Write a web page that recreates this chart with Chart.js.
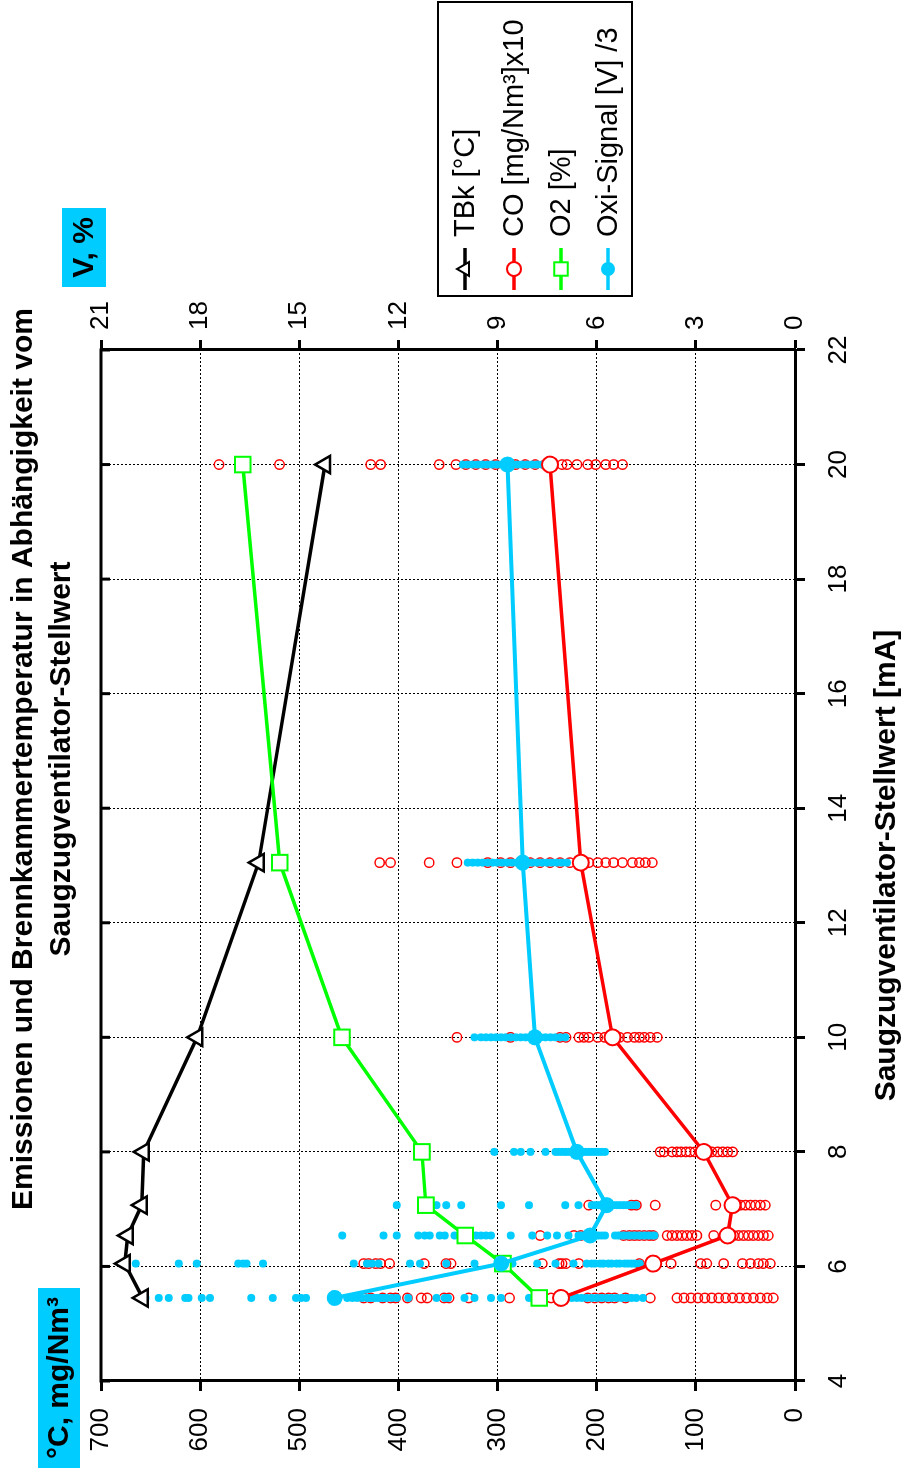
<!DOCTYPE html>
<html><head><meta charset="utf-8">
<script src="https://cdn.jsdelivr.net/npm/chart.js@4.4.1/dist/chart.umd.min.js"></script>
<style>
html,body{margin:0;padding:0;background:#fff;overflow:hidden;width:906px;height:1475px;}
#wrap{position:absolute;left:0;top:0;width:1475px;height:906px;transform-origin:0 0;transform:translate(0px,1475px) rotate(-90deg);background:#fff;}
canvas{display:block;}
</style></head><body>
<div id="wrap"><canvas id="c" width="1475" height="906"></canvas></div>
<script>
// ---------- data ----------
const titleLines = ['Emissionen und Brennkammertemperatur in Abhängigkeit vom', 'Saugzugventilator-Stellwert'];
const xAxisTitle = 'Saugzugventilator-Stellwert [mA]';
const leftAxisTitle = '°C, mg/Nm³';
const rightAxisTitle = 'V, %';
const seriesLabels = ['TBk [°C]', 'CO [mg/Nm³]x10', 'O2 [%]', 'Oxi-Signal [V] /3'];

const xMin = 4, xMax = 22, xStep = 2;
const yLeftMax = 700, yLeftStep = 100;
const yRightMax = 21, yRightStep = 3;

const xMean = [5.45, 6.05, 6.54, 7.07, 8, 10, 13.05, 20];
const tbk   = [658, 676, 673, 659, 657, 603, 541, 474];
const co    = [236, 143, 68, 63, 92, 184, 216, 247];
const o2    = [7.74, 8.84, 9.98, 11.17, 11.29, 13.71, 15.59, 16.71];
const oxi   = [13.93, 8.89, 6.2, 5.7, 6.6, 7.87, 8.24, 8.7];

// raw CO readings per set point (left axis)
const coRaw1 = [435, 428, 416, 408, 403, 391, 377, 371, 354, 349, 329, 288, 246, 209, 202, 195, 188, 182, 171, 146, 119, 112, 105, 98, 91, 84, 77, 70, 63, 56, 49, 42, 35, 28, 22];
const coRaw2 = [435, 430, 423, 418, 409, 374, 352, 347, 255, 238, 235, 231, 218, 157, 125, 95, 89, 72, 53, 45, 37, 32, 25];
const coRaw3 = [257, 223, 216, 173, 167, 162, 157, 152, 147, 143, 129, 124, 119, 114, 109, 104, 99, 82, 62, 57, 52, 47, 42, 37, 32, 27];
const coRaw4 = [208, 165, 160, 141, 80, 55, 50, 45, 40, 35, 30];
const coRaw5 = [136, 132, 124, 119, 115, 110, 106, 101, 96, 93, 88, 84, 78, 73, 68, 63];
const coRaw6 = [341, 287, 237, 231, 218, 213, 208, 199, 192, 177, 169, 162, 157, 152, 146, 139];
const coRaw7 = [419, 408, 369, 341, 310, 297, 287, 277, 267, 257, 247, 237, 227, 208, 199, 191, 183, 174, 164, 157, 151, 144];
const coRaw8 = [581, 520, 428, 418, 359, 342, 332, 322, 312, 302, 292, 282, 272, 262, 252, 247, 235, 230, 220, 209, 201, 191, 183, 174];

// raw Oxi-signal readings per set point (right axis)
const oxiRaw1 = [19.65, 19.25, 18.95, 18.45, 18.35, 17.95, 17.7, 16.45, 15.8, 15.1, 14.95, 14.8, 13.55, 13.4, 13.25, 13.1, 12.95, 12.85, 12.75, 12.65, 12.55, 12.45, 12.35, 12.2, 12.05, 11.7, 10.85, 10.6, 10.5, 10.0, 9.7, 9.2, 8.9, 8.05, 7.65, 6.75, 6.6, 6.45, 6.3, 6.15, 6.0, 5.85, 5.7, 5.55, 5.4, 5.25, 5.1, 4.95, 4.8, 4.6];
const oxiRaw2 = [20.35, 19.95, 18.65, 18.1, 16.85, 16.7, 16.6, 16.1, 13.35, 12.95, 12.8, 12.6, 11.65, 11.35, 10.55, 9.7, 8.55, 7.8, 7.25, 6.7, 6.3, 6.15, 6.05, 5.9, 5.8, 5.65, 5.55, 5.4, 5.3, 5.15, 5.05, 4.95, 4.85, 4.7];
const oxiRaw3 = [13.7, 12.45, 12.05, 11.4, 11.2, 11.05, 10.75, 10.6, 10.3, 10.0, 9.65, 9.5, 9.35, 9.2, 8.6, 7.95, 7.5, 7.2, 6.85, 6.55, 6.45, 6.35, 6.25, 6.15, 6.05, 5.95, 5.85, 5.75, 5.45, 5.35, 5.25, 5.15, 5.05, 4.95, 4.85, 4.75, 4.65, 4.55, 4.45, 4.35, 4.25];
const oxiRaw4 = [12.05, 10.85, 10.55, 10.1, 8.9, 8.05, 6.95, 6.55, 6.15, 6.05, 5.95, 5.85, 5.75, 5.65, 5.5, 5.4, 5.3, 5.2, 5.1, 5.0, 4.9, 4.8];
const oxiRaw5 = [9.1, 8.5, 8.3, 8.0, 7.55, 7.25, 7.15, 7.05, 6.95, 6.85, 6.75, 6.65, 6.55, 6.45, 6.35, 6.25, 6.15, 6.05, 5.95, 5.85, 5.75];
const oxiRaw6 = [9.7, 9.5, 9.35, 9.2, 9.05, 8.9, 8.75, 8.6, 8.45, 8.3, 8.15, 8.0, 7.85, 7.7, 7.55, 7.4, 7.25, 7.1, 6.95];
const oxiRaw7 = [9.9, 9.75, 9.6, 9.45, 9.3, 9.15, 9.0, 8.85, 8.7, 8.55, 8.4, 8.25, 8.1, 7.95, 7.8, 7.65, 7.5, 7.35, 7.2, 7.05, 6.9];
const oxiRaw8 = [10.05, 9.9, 9.75, 9.6, 9.45, 9.3, 9.15, 9.0, 8.85, 8.7, 8.55, 8.4, 8.25, 8.1, 7.95, 7.8, 7.65, 7.5];

// ---------- build ----------
const FONT = "'Liberation Sans', Arial, Helvetica, sans-serif";
const RED = '#ff0000', GREEN = '#00ff00', CYAN = '#00ccff', BLACK = '#000000';

const pts = (ys) => xMean.map((x, i) => ({x: x, y: ys[i]}));
const rawPts = (rows) => {
  const out = [];
  rows.forEach((row, i) => row.forEach(v => out.push({x: xMean[i], y: v})));
  return out;
};
const coRawData = rawPts([coRaw1, coRaw2, coRaw3, coRaw4, coRaw5, coRaw6, coRaw7, coRaw8]);
const oxiRawData = rawPts([oxiRaw1, oxiRaw2, oxiRaw3, oxiRaw4, oxiRaw5, oxiRaw6, oxiRaw7, oxiRaw8]);

const legendItems = [
  {label: seriesLabels[0], color: BLACK, style: 'triangle', radius: 8, fill: '#fff', bw: 2},
  {label: seriesLabels[1], color: RED, style: 'circle', radius: 7, fill: '#fff', bw: 2},
  {label: seriesLabels[2], color: GREEN, style: 'rect', radius: 9.5, fill: '#fff', bw: 2},
  {label: seriesLabels[3], color: CYAN, style: 'circle', radius: 7, fill: CYAN, bw: 0}
];

function drawMarker(ctx, style, r, x, y, bw) {
  if (Chart.helpers && Chart.helpers.drawPoint) {
    Chart.helpers.drawPoint(ctx, {pointStyle: style, radius: r, borderWidth: bw, rotation: 0}, x, y);
    return;
  }
  ctx.beginPath();
  ctx.arc(x, y, r, 0, Math.PI * 2);
  ctx.fill(); if (bw > 0) ctx.stroke();
}

const deco = {
  id: 'deco',
  beforeDatasetsDraw(chart) {
    const {ctx, chartArea: a, scales} = chart;
    const xs = scales.x;
    ctx.save();
    ctx.strokeStyle = BLACK;
    ctx.lineWidth = 3;
    ctx.beginPath();
    ctx.moveTo(a.left - 1.5, a.top);
    ctx.lineTo(a.right + 1.5, a.top);
    ctx.stroke();
    for (let v = xMin; v <= xMax; v += xStep) {
      const px = xs.getPixelForValue(v);
      ctx.beginPath();
      ctx.moveTo(px, a.top);
      ctx.lineTo(px, a.top + 9);
      ctx.stroke();
    }
    ctx.restore();
  },
  afterDraw(chart) {
    const ctx = chart.ctx;
    ctx.save();
    // title
    ctx.fillStyle = BLACK;
    ctx.textAlign = 'center';
    ctx.textBaseline = 'middle';
    ctx.font = 'bold 30px ' + FONT;
    ctx.fillText(titleLines[0], 716, 24);
    ctx.fillText(titleLines[1], 716, 62);
    // axis unit boxes
    ctx.fillStyle = CYAN;
    ctx.fillRect(7, 38, 180, 42);
    ctx.fillRect(1188, 62, 79, 44);
    ctx.fillStyle = BLACK;
    ctx.fillText(leftAxisTitle, 97, 60);
    ctx.fillText(rightAxisTitle, 1227.5, 85);
    // legend
    const L = {x: 1179, y: 438, w: 294, h: 194};
    ctx.fillStyle = '#fff';
    ctx.fillRect(L.x, L.y, L.w, L.h);
    ctx.lineWidth = 2;
    ctx.strokeStyle = BLACK;
    ctx.strokeRect(L.x, L.y, L.w, L.h);
    const rowsY = [465, 514, 561, 608];
    ctx.textAlign = 'left';
    ctx.font = '29px ' + FONT;
    legendItems.forEach((it, i) => {
      const y = rowsY[i];
      ctx.strokeStyle = it.color;
      ctx.lineWidth = 3.5;
      ctx.beginPath(); ctx.moveTo(1185, y); ctx.lineTo(1227, y); ctx.stroke();
      ctx.fillStyle = it.fill;
      ctx.lineWidth = it.bw;
      drawMarker(ctx, it.style, it.radius, 1206, y, it.bw);
      ctx.fillStyle = BLACK;
      ctx.fillText(it.label, 1238, y + 1);
    });
    ctx.restore();
  }
};

const gridCommon = {color: BLACK, lineWidth: 1, borderDash: [2, 2], drawTicks: true, tickLength: 10, tickWidth: 3, tickColor: BLACK, tickBorderDash: []};
const borderCommon = {display: true, color: BLACK, width: 3, dash: [2, 2]};
const tickFont = {family: FONT, size: 26};

new Chart(document.getElementById('c'), {
  type: 'scatter',
  data: {
    datasets: [
      {label: seriesLabels[0], data: pts(tbk), yAxisID: 'y', showLine: true, borderColor: BLACK, borderWidth: 3.5,
       pointStyle: 'triangle', pointRadius: 10, pointBorderWidth: 2.5, pointBackgroundColor: '#fff', pointBorderColor: BLACK, order: 5},
      {label: seriesLabels[1], data: pts(co), yAxisID: 'y', showLine: true, borderColor: RED, borderWidth: 3.5,
       pointStyle: 'circle', pointRadius: 8, pointBorderWidth: 2, pointBackgroundColor: '#fff', pointBorderColor: RED, order: 4},
      {label: seriesLabels[2], data: pts(o2), yAxisID: 'y2', showLine: true, borderColor: GREEN, borderWidth: 3.5,
       pointStyle: 'rect', pointRadius: 11, pointBorderWidth: 2, pointBackgroundColor: '#fff', pointBorderColor: GREEN, order: 3},
      {label: seriesLabels[3], data: pts(oxi), yAxisID: 'y2', showLine: true, borderColor: CYAN, borderWidth: 4,
       pointStyle: 'circle', pointRadius: 8, pointBorderWidth: 0, pointBackgroundColor: CYAN, pointBorderColor: CYAN, order: 2},
      {label: 'CO raw', data: coRawData, yAxisID: 'y', showLine: false,
       pointStyle: 'circle', pointRadius: 4.7, pointBorderWidth: 1.5, pointBackgroundColor: 'rgba(255,255,255,0)', pointBorderColor: RED, order: 10},
      {label: 'Oxi raw', data: oxiRawData, yAxisID: 'y2', showLine: false,
       pointStyle: 'circle', pointRadius: 4, pointBorderWidth: 0, pointBackgroundColor: CYAN, pointBorderColor: CYAN, order: 9}
    ]
  },
  options: {
    responsive: false,
    animation: false,
    devicePixelRatio: 1,
    layout: {padding: {top: 101, left: 0, right: 0, bottom: 0}},
    plugins: {legend: {display: false}, tooltip: {enabled: false}, title: {display: false}},
    elements: {line: {tension: 0}},
    scales: {
      x: {
        type: 'linear', position: 'bottom', min: xMin, max: xMax,
        ticks: {stepSize: xStep, color: BLACK, font: tickFont, padding: 18, maxRotation: 0, autoSkip: false},
        grid: gridCommon, border: borderCommon,
        title: {display: true, text: xAxisTitle, color: BLACK, font: {family: FONT, size: 30, weight: 'bold'}, padding: {top: 0, bottom: 1}},
        afterFit(s) { s.height = 111; }
      },
      y: {
        type: 'linear', position: 'left', min: 0, max: yLeftMax,
        ticks: {stepSize: yLeftStep, color: BLACK, font: tickFont, padding: 17},
        grid: gridCommon, border: borderCommon,
        afterFit(s) { s.width = 94; }
      },
      y2: {
        type: 'linear', position: 'right', min: 0, max: yRightMax,
        ticks: {stepSize: yRightStep, color: BLACK, font: tickFont, padding: 10},
        grid: Object.assign({}, gridCommon, {drawOnChartArea: false}), border: borderCommon,
        afterFit(s) { s.width = 350; }
      }
    }
  },
  plugins: [deco]
});
</script></body></html>
